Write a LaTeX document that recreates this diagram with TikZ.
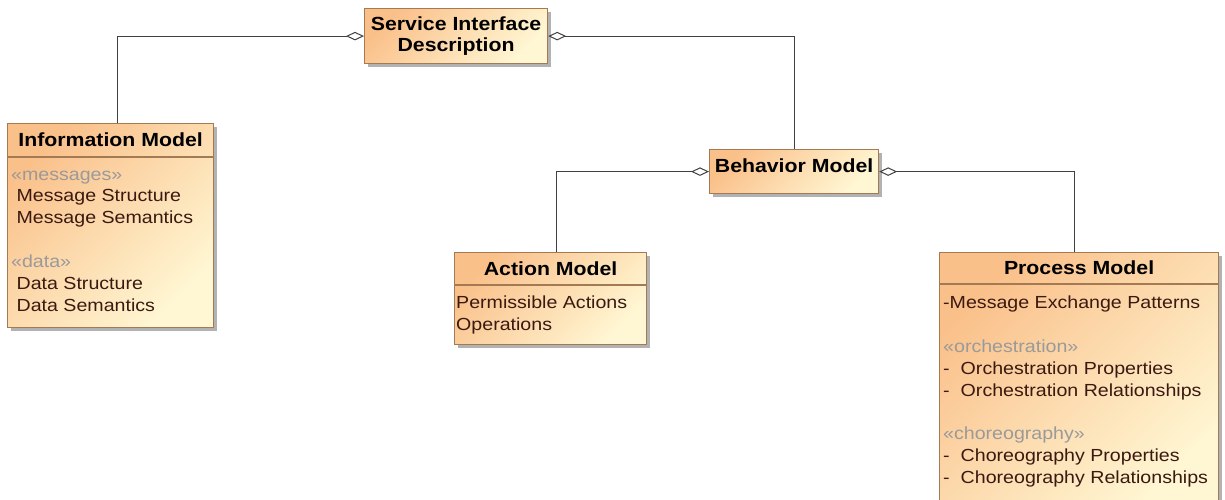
\documentclass[tikz,border=0pt]{standalone}
\usepackage{fontspec}
\setmainfont{Liberation Sans}[FakeStretch=1.12]
\usepackage{xcolor}
\usepackage{tikz}
\usetikzlibrary{positioning,arrows.meta,shadows,calc}
\definecolor{Peach}{HTML}{FAC08A}
\definecolor{Cream}{HTML}{FFF7D4}
\definecolor{Rim}{HTML}{A47A55}
\definecolor{Ink}{HTML}{3A1A10}
\definecolor{Stereo}{HTML}{9A9A9A}
\definecolor{Wire}{HTML}{404040}
\newcommand{\stype}[1]{\textcolor{Stereo}{«#1»}}

\begin{document}
\begin{tikzpicture}[x=1pt, y=-1pt, every node/.style={font=\fontsize{17.5}{21.9}\selectfont}]
\tikzstyle{cls}=[draw=Rim,line width=1.2pt,left color=Peach,right color=Cream,shading angle=45,drop shadow={shadow xshift=3pt,shadow yshift=-3pt,fill=black!30,opacity=1},anchor=north west,inner sep=0pt]
\tikzstyle{ttl}=[font=\fontsize{19}{21}\selectfont\bfseries,anchor=base,inner sep=0pt]
\tikzstyle{body}=[text=Ink,align=left,anchor=north west,inner sep=0pt]
\tikzstyle{rule}=[draw=Rim,line width=1.2pt]
\tikzstyle{wire}=[draw=Wire,line width=1pt,{Diamond[open,length=18pt,width=8.5pt]}-]
\useasboundingbox (0,0) rectangle (1225,499);
\clip (0,0) rectangle (1225,499);
\node[cls,minimum width=183pt,minimum height=55pt,align=center,font=\fontsize{19}{21}\selectfont\bfseries] (sid) at (364,8) {Service Interface\\Description};
\node[cls,minimum width=206pt,minimum height=204pt] (info) at (7,123) {};
\node[ttl] (infoT) at ($(info.north)+(0,23.5)$) {Information Model};
\draw[rule] ($(info.north west)+(0,34)$) -- ($(info.north east)+(0,34)$);
\node[body] (infoB) at ($(info.north west)+(4,41.5)$) {\strut\stype{messages}\\\strut\ Message Structure\\\strut\ Message Semantics\\\strut\\\strut\stype{data}\\\strut\ Data Structure\\\strut\ Data Semantics};
\node[cls,minimum width=169pt,minimum height=44pt] (beh) at (709,149) {};
\node[ttl] (behT) at ($(beh.north)+(0,23)$) {Behavior Model};
\node[cls,minimum width=192pt,minimum height=92pt] (act) at (454,252) {};
\node[ttl] (actT) at ($(act.north)+(0,23)$) {Action Model};
\draw[rule] ($(act.north west)+(0,33)$) -- ($(act.north east)+(0,33)$);
\node[body] (actB) at ($(act.north west)+(2,41)$) {\strut Permissible Actions\\\strut Operations};
\node[cls,minimum width=279pt,minimum height=260pt] (proc) at (939,252) {};
\node[ttl] (procT) at ($(proc.north)+(0,22.5)$) {Process Model};
\draw[rule] ($(proc.north west)+(0,32)$) -- ($(proc.north east)+(0,32)$);
\node[body] (procB) at ($(proc.north west)+(4,41)$) {\strut-Message Exchange Patterns\\\strut\\\strut\stype{orchestration}\\\strut-\hspace{11pt}Orchestration Properties\\\strut-\hspace{11pt}Orchestration Relationships\\\strut\\\strut\stype{choreography}\\\strut-\hspace{11pt}Choreography Properties\\\strut-\hspace{11pt}Choreography Relationships};
\draw[wire] (sid.west) -| ([xshift=7pt]info.north);
\draw[wire] (sid.east) -| (beh.north);
\draw[wire] (beh.west) -| ([xshift=6pt]act.north);
\draw[wire] (beh.east) -| ([xshift=-4.5pt]proc.north);
\end{tikzpicture}
\end{document}
